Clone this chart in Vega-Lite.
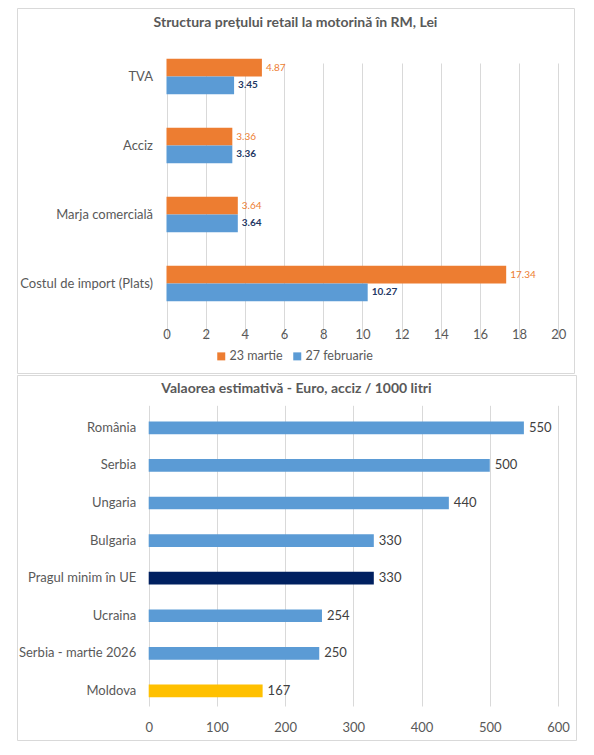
{
  "$schema": "https://vega.github.io/schema/vega-lite/v6.json",
  "background": "white",
  "padding": {"left": 16, "top": 7, "right": 0, "bottom": 0},
  "spacing": 0,
  "config": {
    "font": "Lato",
    "view": {"stroke": "#d9d9d9", "strokeWidth": 1},
    "title": {"fontSize": 14, "fontWeight": "bold", "color": "#595959", "font": "Lato"},
    "axis": {"domain": false, "ticks": false, "labelColor": "#595959", "labelFontSize": 13, "gridColor": "#d9d9d9", "title": null, "labelFont": "Lato", "labelFlush": false}
  },
  "vconcat": [
    {
      "width": 557,
      "height": 365,
      "title": {"text": "Structura prețului retail la motorină în RM, Lei", "anchor": "middle", "frame": "group", "offset": 0, "dy": 22},
      "data": {
        "values": [
          {"componenta": "TVA", "data": "23 martie", "lei": 4.87},
          {"componenta": "TVA", "data": "27 februarie", "lei": 3.45},
          {"componenta": "Acciz", "data": "23 martie", "lei": 3.36},
          {"componenta": "Acciz", "data": "27 februarie", "lei": 3.36},
          {"componenta": "Marja comercială", "data": "23 martie", "lei": 3.64},
          {"componenta": "Marja comercială", "data": "27 februarie", "lei": 3.64},
          {"componenta": "Costul de import (Plats)", "data": "23 martie", "lei": 17.34},
          {"componenta": "Costul de import (Plats)", "data": "27 februarie", "lei": 10.27}
        ]
      },
      "encoding": {
        "y": {
          "field": "componenta", "type": "nominal",
          "sort": ["TVA", "Acciz", "Marja comercială", "Costul de import (Plats)"],
          "scale": {"range": [34, 310], "paddingInner": 0.484, "paddingOuter": 0.242},
          "axis": {"offset": -149.5, "labelPadding": 14, "grid": false}
        },
        "x": {
          "field": "lei", "type": "quantitative",
          "scale": {"domain": [0, 20], "range": [149.5, 541.3], "nice": false},
          "axis": {"values": [0, 2, 4, 6, 8, 10, 12, 14, 16, 18, 20], "offset": -55, "labelPadding": 10, "grid": true}
        },
        "yOffset": {
          "field": "data", "type": "nominal",
          "scale": {"domain": ["23 martie", "27 februarie"], "paddingInner": 0, "paddingOuter": 0}
        }
      },
      "layer": [
        {
          "mark": {"type": "bar"},
          "encoding": {
            "color": {
              "field": "data", "type": "nominal",
              "scale": {"domain": ["23 martie", "27 februarie"], "range": ["#ED7D31", "#5B9BD5"]},
              "legend": {
                "title": null, "orient": "none", "direction": "horizontal",
                "legendX": 198, "legendY": 342,
                "symbolType": "square", "symbolSize": 64, "symbolStrokeWidth": 0,
                "labelFontSize": 12.5, "labelColor": "#595959", "labelOffset": 2, "columnPadding": 8
              }
            }
          }
        },
        {
          "transform": [{"filter": "datum.data === '23 martie'"}],
          "mark": {"type": "text", "align": "left", "baseline": "middle", "dx": 4, "fontSize": 10, "color": "#ED7D31"},
          "encoding": {"text": {"field": "lei", "type": "quantitative", "format": ".2f"}}
        },
        {
          "transform": [{"filter": "datum.data === '27 februarie'"}],
          "mark": {"type": "text", "align": "left", "baseline": "middle", "dx": 4, "fontSize": 10, "fontWeight": "bold", "color": "#1F3864"},
          "encoding": {"text": {"field": "lei", "type": "quantitative", "format": ".2f"}}
        }
      ]
    },
    {
      "width": 559,
      "height": 365,
      "title": {"text": "Valaorea estimativă - Euro, acciz / 1000 litri", "anchor": "middle", "frame": "group", "offset": 0, "dy": 21},
      "data": {
        "values": [
          {"tara": "România", "euro": 550},
          {"tara": "Serbia", "euro": 500},
          {"tara": "Ungaria", "euro": 440},
          {"tara": "Bulgaria", "euro": 330},
          {"tara": "Pragul minim în UE", "euro": 330},
          {"tara": "Ucraina", "euro": 254},
          {"tara": "Serbia - martie 2026", "euro": 250},
          {"tara": "Moldova", "euro": 167}
        ]
      },
      "encoding": {
        "y": {
          "field": "tara", "type": "nominal", "sort": null,
          "scale": {"range": [34, 334.7], "paddingInner": 0.663, "paddingOuter": 0.3315},
          "axis": {"offset": -131.7, "labelPadding": 13, "grid": false}
        },
        "x": {
          "field": "euro", "type": "quantitative",
          "scale": {"domain": [0, 600], "range": [131.7, 541], "nice": false},
          "axis": {"values": [0, 100, 200, 300, 400, 500, 600], "offset": -30.3, "labelPadding": 12, "grid": true}
        }
      },
      "layer": [
        {
          "mark": {"type": "bar"},
          "encoding": {
            "color": {
              "condition": [
                {"test": "datum.tara === 'Moldova'", "value": "#FFC000"},
                {"test": "datum.tara === 'Pragul minim în UE'", "value": "#002060"}
              ],
              "value": "#5B9BD5"
            }
          }
        },
        {
          "mark": {"type": "text", "align": "left", "baseline": "middle", "dx": 5, "fontSize": 13, "color": "#404040"},
          "encoding": {"text": {"field": "euro", "type": "quantitative"}}
        }
      ]
    }
  ]
}
